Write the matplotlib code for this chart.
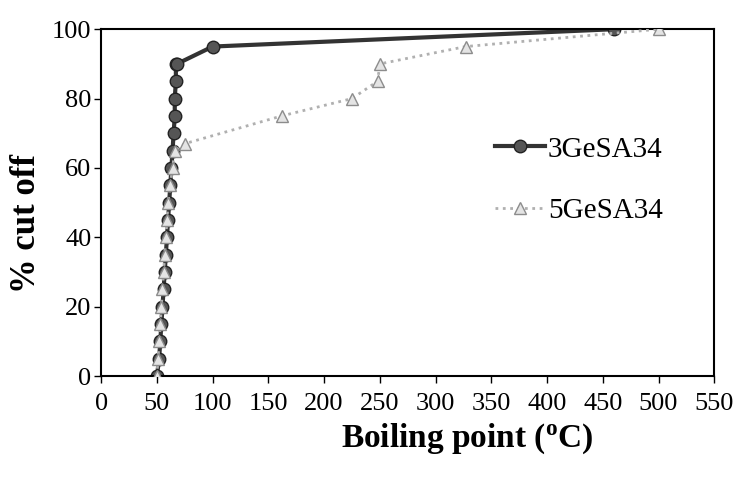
import matplotlib
matplotlib.use('Agg')
import matplotlib.pyplot as plt

plt.rcParams['font.family'] = ['Liberation Serif', 'DejaVu Serif']
plt.rcParams['mathtext.fontset'] = 'custom'
plt.rcParams['mathtext.rm'] = 'Liberation Serif'
plt.rcParams['mathtext.bf'] = 'Liberation Serif:bold'

# 3GeSA34
bp_3 = [50, 52, 53, 54, 55, 56, 57, 58, 59, 60, 61, 62, 63, 64, 65, 66, 66, 67, 67, 68, 100, 460]
cut_3 = [0, 5, 10, 15, 20, 25, 30, 35, 40, 45, 50, 55, 60, 65, 70, 75, 80, 85, 90, 90, 95, 100]

# 5GeSA34
bp_5 = [50, 51, 52, 53, 54, 55, 56, 57, 58, 59, 60, 62, 64, 66, 75, 162, 225, 248, 250, 327, 500]
cut_5 = [0, 5, 10, 15, 20, 25, 30, 35, 40, 45, 50, 55, 60, 65, 67, 75, 80, 85, 90, 95, 100]

fig = plt.figure(figsize=(7.44, 4.79), dpi=100)
ax = fig.add_axes([0.136, 0.215, 0.824, 0.724])

ax.plot(bp_3, cut_3, linestyle='-', color='#333333', linewidth=3,
        marker='o', markersize=9, markerfacecolor='#555555',
        markeredgecolor='#222222', label='3GeSA34', zorder=2)
ax.plot(bp_5, cut_5, linestyle=':', color='#b0b0b0', linewidth=2,
        marker='^', markersize=9, markerfacecolor='#e4e4e4',
        markeredgecolor='#8c8c8c', label='5GeSA34', zorder=3)

ax.set_xlim(0, 550)
ax.set_ylim(0, 100)
ax.set_xticks(range(0, 551, 50))
ax.set_yticks(range(0, 101, 20))
ax.tick_params(labelsize=19, direction='out', length=5, width=1)
ax.tick_params(axis='x', pad=7)
ax.tick_params(axis='y', pad=2)
for s in ax.spines.values():
    s.set_linewidth(1.5)

ax.set_xlabel(r'Boiling point ($\mathregular{^{o}}$C)', fontsize=24, fontweight='bold')
ax.xaxis.set_label_coords(0.597, -0.13)
ax.set_ylabel('% cut off', fontsize=25, fontweight='bold')
ax.yaxis.set_label_coords(-0.095, 0.44)

ax.legend(loc='center right', bbox_to_anchor=(0.935, 0.565), borderaxespad=0,
          frameon=False, fontsize=21, handlelength=1.7, labelspacing=1.2,
          handletextpad=0.1)

fig.savefig('out.png', dpi=100)
